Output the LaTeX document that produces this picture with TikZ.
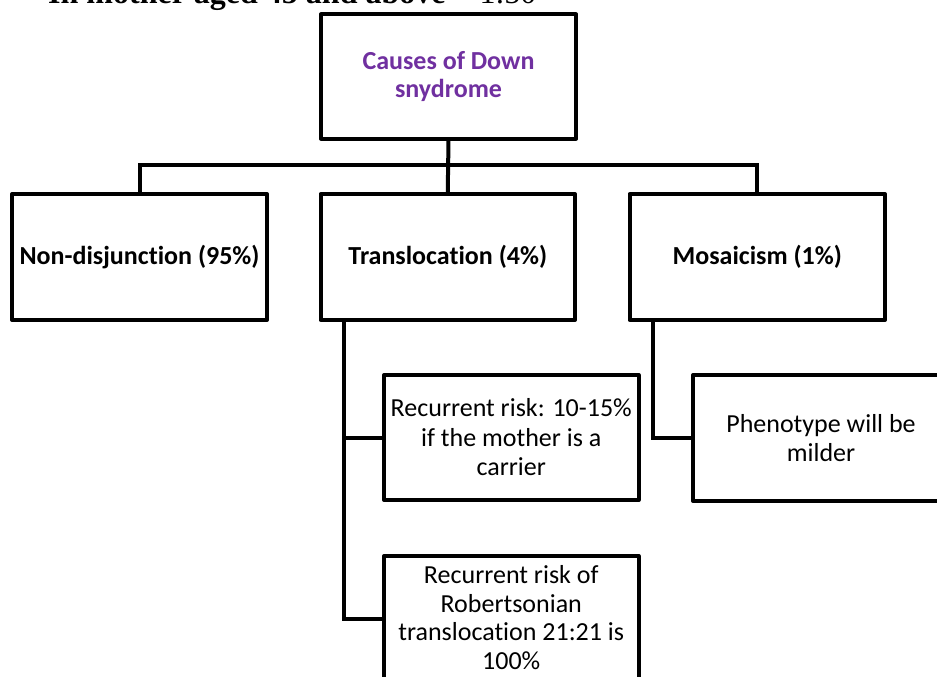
\documentclass[tikz,border=0pt]{standalone}
\usepackage{fontspec}
\setmainfont{Carlito}[Ligatures=CommonOff]
\newfontfamily\timesfont{Liberation Serif}
\definecolor{titlepurple}{RGB}{112,48,160}
\begin{document}
\begin{tikzpicture}[x=1pt,y=-1pt,
  box/.style={draw, line width=4pt, line join=round, align=center, inner sep=1pt,
    font=\fontsize{26}{29.5}\selectfont},
  conn/.style={line width=4pt, line join=miter},
  toptext/.style={inner sep=0pt, anchor=base west, font=\timesfont\fontsize{32}{36}\selectfont}]
\useasboundingbox (0,0) rectangle (937,677);
\clip (0,0) rectangle (937,677);
\fill[white] (0,0) rectangle (937,677);

% cut-off line of text above the diagram
\node[toptext] (bul) at (2,7) {•};
\node[toptext] (line) at (48,3.5) {\textbf{In mother aged 45 and above} = 1:50};

% boxes
\node[box, minimum width=255pt, minimum height=124pt, text=titlepurple, font=\bfseries\fontsize{26}{28.5}\selectfont]
  (top) at (448.5,76.5) {Causes of Down\\snydrome};
\node[box, minimum width=255pt, minimum height=126pt, font=\bfseries\fontsize{26}{29.5}\selectfont]
  (nd) at (139.5,257) {Non-disjunction (95\%)};
\node[box, minimum width=254.5pt, minimum height=126pt, font=\bfseries\fontsize{26}{29.5}\selectfont]
  (tr) at (447.75,257) {Translocation (4\%)};
\node[box, minimum width=255.5pt, minimum height=126pt, font=\bfseries\fontsize{26}{29.5}\selectfont]
  (mo) at (757.25,257) {Mosaicism (1\%)};
\node[box, minimum width=254.5pt, minimum height=125pt]
  (r1) at (511.25,437.5) {Recurrent risk: 10-15\%\\if the mother is a\\carrier};
\node[box, minimum width=254.5pt, minimum height=123pt, font=\fontsize{26}{28.7}\selectfont]
  (r2) at (511.25,617.5) {Recurrent risk of\\Robertsonian\\translocation 21:21 is\\100\%};
\node[box, minimum width=256pt, minimum height=126pt]
  (ph) at (821,438) {Phenotype will be\\milder};

% connectors
\draw[conn] (top.south) -- (tr.north);
\draw[conn] (nd.north) -- ++(0,-27.5) -| (mo.north);
\draw[conn] (r1.west) -| ([xshift=25.5pt]tr.south west);
\draw[conn] ([yshift=-1.5pt]r2.west) -| ([xshift=25.5pt]tr.south west);
\draw[conn] (ph.west) -| ([xshift=25.5pt]mo.south west);
\end{tikzpicture}
\end{document}
